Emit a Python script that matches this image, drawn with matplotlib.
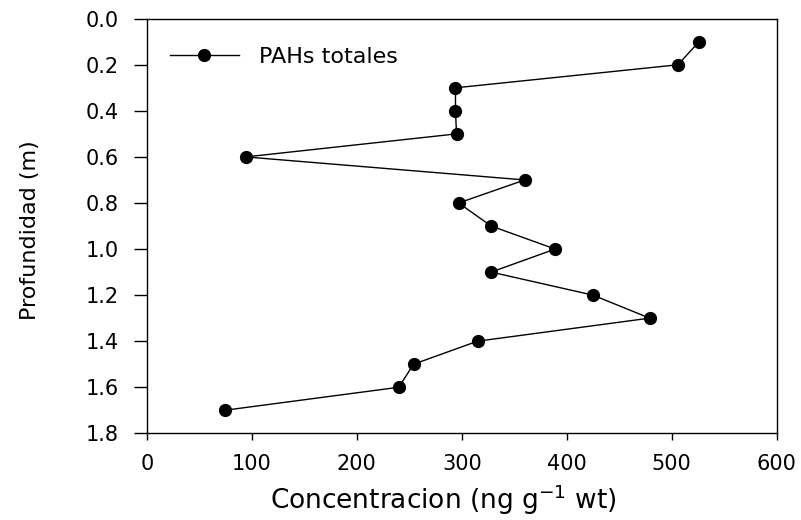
#PAHs totales vs profundidad
#depth profile of total PAHs, depth axis reversed

import matplotlib
matplotlib.use('Agg')
import matplotlib.pyplot as plt

# data
profundidad = [0.1, 0.2, 0.3, 0.4, 0.5, 0.6, 0.7, 0.8, 0.9,
               1.0, 1.1, 1.2, 1.3, 1.4, 1.5, 1.6, 1.7]
pahs_totales = [526, 506, 294, 294, 295, 94, 360, 297, 328,
                389, 328, 425, 479, 315, 254, 240, 74]

x_ticks = [0, 100, 200, 300, 400, 500, 600]
y_ticks = [0.0, 0.2, 0.4, 0.6, 0.8, 1.0, 1.2, 1.4, 1.6, 1.8]
y_ticklabels = ['%.1f' % t for t in y_ticks]

fig = plt.figure(figsize=(8.01, 5.2), dpi=100)
ax = fig.add_axes([0.1835, 0.1667, 0.786, 0.7973])

ax.plot(pahs_totales, profundidad, color='black', linewidth=1.0,
        marker='o', markersize=8.5, label='PAHs totales')

ax.set_xlim(0, 600)
ax.set_ylim(1.8, 0.0)
ax.set_xticks(x_ticks)
ax.set_yticks(y_ticks)
ax.set_yticklabels(y_ticklabels)

ax.tick_params(axis='x', direction='out', length=5, width=1, pad=10, labelsize=15)
ax.tick_params(axis='y', direction='out', length=9.4, width=1, pad=11, labelsize=15)
for s in ax.spines.values():
    s.set_linewidth(1.0)

ax.set_xlabel('Concentracion (ng g$^{-1}$ wt)', fontsize=19)
ax.set_ylabel('Profundidad (m)', fontsize=16)
ax.xaxis.set_label_coords(0.47, -0.118)
ax.yaxis.set_label_coords(-0.17, 0.49)

#legend without frame, top left
ax.legend(loc='upper left', bbox_to_anchor=(0.0365, 0.932), frameon=False,
          borderpad=0, borderaxespad=0, handlelength=3.1, handletextpad=0.9,
          fontsize=16)

fig.savefig('out.png', dpi=100)
